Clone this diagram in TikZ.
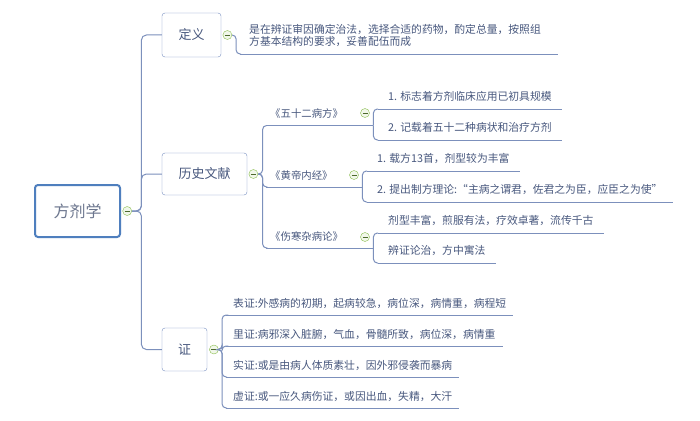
\documentclass[tikz,border=0pt]{standalone}
\usepackage{fontspec}
\setmainfont{Noto Sans CJK SC}
\usetikzlibrary{positioning}
\definecolor{linec}{RGB}{124,144,188}
\definecolor{boxc}{RGB}{118,142,192}
\definecolor{rootc}{RGB}{79,127,190}
\definecolor{txtc}{RGB}{72,88,126}
\definecolor{roottxt}{RGB}{108,118,142}
\definecolor{greenc}{RGB}{138,190,78}
\tikzset{
    topic/.style={draw=boxc, rounded corners=3pt, fill=white, text=txtc, inner sep=0pt,
        font=\fontsize{13}{15}\selectfont},
    fold/.style={circle, draw=greenc, fill=greenc!12, minimum size=9pt, inner sep=0pt,
        path picture={\draw[greenc!55!black, line width=0.7pt]
            ([xshift=2pt]path picture bounding box.west) -- ([xshift=-2pt]path picture bounding box.east);}},
    conn/.style={draw=linec, line width=1pt, rounded corners=4pt},
    ul/.style={append after command={(\tikzlastnode.south west) edge[conn] (\tikzlastnode.south east)}},
    leaf/.style={ul, anchor=south west, inner xsep=10pt, inner ysep=6pt, text=txtc,
        text height=8pt, text depth=2pt, font=\fontsize{10.8}{12}\selectfont},
    branch/.style={ul, anchor=south west, inner xsep=4pt, inner ysep=5.5pt, align=left, text=txtc,
        text height=8pt, text depth=2pt, font=\fontsize{10.4}{12}\selectfont},
}
\begin{document}
\begin{tikzpicture}[x=1pt, y=-1pt]
    \useasboundingbox[fill=white] (0,0) rectangle (700,420);
    % main topics
    \node[topic, draw=rootc, line width=2pt, minimum width=85pt, minimum height=52pt, text=roottxt,
        font=\fontsize{16}{18}\selectfont] (root) at (77.5,211) {方剂学};
    \node[topic, minimum width=59pt, minimum height=44pt] (dingyi) at (191.5,35) {定义};
    \node[topic, minimum width=85pt, minimum height=42pt] (lishi) at (204.5,174) {历史文献};
    \node[topic, minimum width=45pt, minimum height=43pt] (zheng) at (184.5,349.5) {证};
    % definition
    \node[leaf, inner xsep=9pt, text width=300pt, align=left, text depth=14pt] (d1) at (240,54)
        {是在辨证审因确定治法，选择合适的药物，酌定总量，按照组\\方基本结构的要求，妥善配伍而成};
    % history
    \node[branch, text width=99pt] (p21) at (266,125.5) {《五十二病方》};
    \node[branch, text width=88pt] (p22) at (266,187) {《黄帝内经》};
    \node[branch, text width=99pt] (p23) at (266,248) {《伤寒杂病论》};
    \node[leaf] (c11) at (378,109) {1. 标志着方剂临床应用已初具规模};
    \node[leaf] (c12) at (378,140) {2. 记载着五十二种病状和治疗方剂};
    \node[leaf] (c21) at (367,171) {1. 载方13首，剂型较为丰富};
    \node[leaf] (c22) at (367,202) {2. 提出制方理论:“主病之谓君，佐君之为臣，应臣之为使”};
    \node[leaf] (c31) at (378,233) {剂型丰富，煎服有法，疗效卓著，流传千古};
    \node[leaf] (c32) at (378,263) {辨证论治，方中寓法};
    % syndromes
    \node[leaf, inner xsep=7pt, inner ysep=5pt] (z1) at (226,315) {表证:外感病的初期，起病较急，病位深，病情重，病程短};
    \node[leaf, inner xsep=7pt, inner ysep=5pt] (z2) at (226,346) {里证:病邪深入脏腑，气血，骨髓所致，病位深，病情重};
    \node[leaf, inner xsep=7pt, inner ysep=5pt] (z3) at (226,377) {实证:或是由病人体质素壮，因外邪侵袭而暴病};
    \node[leaf, inner xsep=7pt, inner ysep=5pt] (z4) at (226,408) {虚证:或一应久病伤证，或因出血，失精，大汗};
    % fold markers
    \node[fold, right=1.5pt of root] (f0) {};
    \node[fold, right=1.5pt of dingyi] (f1) {};
    \node[fold, right=1.5pt of lishi] (f2) {};
    \node[fold, right=2pt of zheng] (f3) {};
    % connectors
    \foreach \t in {dingyi,lishi,zheng}
        \draw[conn, rounded corners=5pt] (f0.east) -- ++(9.5,0) |- (\t.west);
    \draw[conn] (f1.east) -- ++(4,0) |- (d1.south west);
    \foreach \p in {p21,p22,p23}
        \draw[conn] (f2.east) -- ++(4.5,0) |- (\p.south west);
    \draw[conn] (p21.south east) |- (c11.south west);
    \draw[conn] (p21.south east) |- (c12.south west);
    \draw[conn] (p22.south east) |- (c21.south west);
    \draw[conn] (p22.south east) |- (c22.south west);
    \draw[conn] (p23.south east) |- (c31.south west);
    \draw[conn] (p23.south east) |- (c32.south west);
    \foreach \z in {z1,z2,z3,z4}
        \draw[conn] (f3.east) -- ++(3.5,0) |- (\z.south west);
    \node[fold] (f21) at (365,113) {};
    \node[fold] (f22) at (354,175) {};
    \node[fold] (f23) at (365,237) {};
\end{tikzpicture}
\end{document}
